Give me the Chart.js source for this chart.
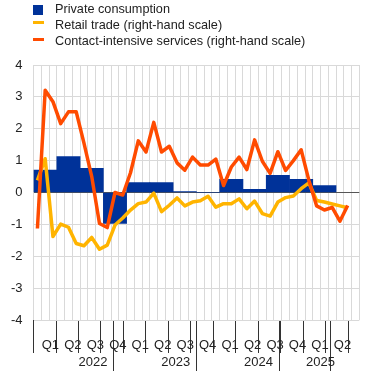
<!DOCTYPE html>
<html>
<head>
<meta charset="utf-8">
<script src="https://cdn.jsdelivr.net/npm/chart.js@4"></script>
<style>
  html, body { margin: 0; padding: 0; background: #fff; }
  #wrap { position: relative; width: 370px; height: 371px; }
  #legend { position: absolute; left: 0; top: 0; font-family: 'Liberation Sans', Arial, sans-serif; font-size: 12.7px; color: #222; }
  .row { position: absolute; left: 0; height: 16px; width: 360px; }
  .row span.txt { position: absolute; left: 55px; top: 0; line-height: 16px; white-space: nowrap; }
  .row span.mark { position: absolute; left: 33px; }
</style>
</head>
<body>
<div id="wrap">
  <canvas id="myChart" width="370" height="371"></canvas>
  <div id="legend"></div>
</div>
<script>
// categories
const years = ['2022', '2023', '2024', '2025']
const monthsPerYear = [12, 12, 12, 6]
const quarterNames = ['Q1', 'Q2', 'Q3', 'Q4']

// quarterly bars, 2022 Q1 .. 2025 Q2
const privateConsumption = [0.70, 1.13, 0.76, -0.97, 0.31, 0.31, 0.03, 0.00, 0.41, 0.10, 0.54, 0.41, 0.22, null]

// monthly lines, Jan 2022 .. May 2025
const retailTrade = [
  0.38, 1.06, -1.38, -0.99, -1.09, -1.60, -1.67, -1.41, -1.78, -1.65, -1.02, -0.80,
  -0.55, -0.35, -0.30, -0.02, -0.60, -0.40, -0.17, -0.42, -0.30, -0.26, -0.12, -0.46,
  -0.35, -0.35, -0.20, -0.51, -0.27, -0.66, -0.74, -0.30, -0.16, -0.11, 0.12, 0.30,
  -0.25, -0.30, -0.36, -0.42, -0.48
]
const contactServices = [
  -1.13, 3.21, 2.85, 2.16, 2.53, 2.53, 1.55, 0.50, -0.97, -1.10, 0.00, -0.08,
  0.62, 1.62, 1.27, 2.20, 1.27, 1.45, 0.93, 0.70, 1.11, 0.86, 0.86, 1.05,
  0.22, 0.80, 1.11, 0.72, 1.65, 0.98, 0.60, 1.28, 0.69, 1.00, 1.34, 0.38,
  -0.42, -0.55, -0.47, -0.90, -0.41
]

// tick labels
const yearTicks = [0, 6, 12, 18, 24, 30, 36, 39, 42]
const yearTickLabels = ['', '2022', '', '2023', '', '2024', '', '2025', '']

const monthLabels = []
const quarterLabels = []
years.forEach((y, i) => {
  for (let m = 1; m <= monthsPerYear[i]; m++) monthLabels.push(y + '-' + m)
  for (let q = 0; q < monthsPerYear[i] / 3; q++) quarterLabels.push(y + ' ' + quarterNames[q])
})
const nMonths = monthLabels.length
const quarterTicks = []
for (let v = 0; v <= nMonths; v += 1.5) quarterTicks.push(v)

const tickDark = '#333'
const gridGrey = '#d9d9d9'

Chart.defaults.font.family = "'Liberation Sans', Arial, sans-serif"
Chart.defaults.color = '#222'

const chart = new Chart(document.getElementById('myChart'), {
  type: 'bar',
  data: {
    labels: monthLabels,
    datasets: [
      {
        type: 'bar',
        label: 'Private consumption',
        data: privateConsumption,
        xAxisID: 'xBars',
        backgroundColor: '#003299',
        grouped: false,
        barPercentage: 1,
        categoryPercentage: 1,
        order: 3
      },
      {
        type: 'line',
        label: 'Retail trade (right-hand scale)',
        data: retailTrade,
        xAxisID: 'x',
        borderColor: '#ffb400',
        backgroundColor: '#ffb400',
        borderWidth: 3.5,
        borderJoinStyle: 'round',
        pointRadius: 0,
        tension: 0,
        order: 2
      },
      {
        type: 'line',
        label: 'Contact-intensive services (right-hand scale)',
        data: contactServices,
        xAxisID: 'x',
        borderColor: '#ff4b00',
        backgroundColor: '#ff4b00',
        borderWidth: 3.5,
        borderJoinStyle: 'round',
        pointRadius: 0,
        tension: 0,
        order: 1
      }
    ]
  },
  options: {
    responsive: false,
    animation: false,
    devicePixelRatio: 1,
    layout: { padding: { left: 0, right: 10.7, top: 65, bottom: 51 } },
    plugins: { legend: { display: false }, tooltip: { enabled: false } },
    scales: {
      x: {
        type: 'category',
        offset: true,
        grid: { color: gridGrey, drawTicks: false, offset: true },
        border: { display: false },
        ticks: { display: false }
      },
      xBars: {
        type: 'category',
        labels: quarterLabels,
        offset: true,
        display: false,
        ticks: { autoSkip: false }
      },
      // quarter labels + short separators, hung from y = -4 so they are not clipped
      xQuarter: {
        type: 'linear',
        position: { y: -4 },
        min: 0,
        max: nMonths,
        afterBuildTicks: (axis) => { axis.ticks = quarterTicks.map(v => ({ value: v })) },
        grid: {
          drawOnChartArea: false,
          tickLength: 33,
          tickColor: (ctx) => ctx.index % 2 === 0 ? tickDark : 'rgba(0,0,0,0)'
        },
        border: { display: false },
        ticks: {
          autoSkip: false,
          maxTicksLimit: 100,
          maxRotation: 0,
          minRotation: 0,
          padding: -15.8,
          font: { size: 13 },
          callback: (v, i) => i % 2 === 1 ? quarterNames[((i - 1) / 2) % 4] : ''
        }
      },
      // year labels + long separators
      xYear: {
        type: 'linear',
        position: { y: -4 },
        min: 0,
        max: nMonths,
        afterBuildTicks: (axis) => { axis.ticks = yearTicks.map(v => ({ value: v })) },
        grid: {
          drawOnChartArea: false,
          tickLength: 51,
          tickColor: (ctx) => yearTickLabels[ctx.index] === '' ? tickDark : 'rgba(0,0,0,0)'
        },
        border: { display: false },
        ticks: {
          autoSkip: false,
          maxTicksLimit: 100,
          maxRotation: 0,
          minRotation: 0,
          padding: -16.8,
          font: { size: 13 },
          callback: (v, i) => yearTickLabels[i]
        }
      },
      y: {
        min: -4,
        max: 4,
        border: { display: false },
        grid: {
          drawTicks: false,
          color: (ctx) => ctx.tick && ctx.tick.value === 0 ? '#555' : gridGrey
        },
        ticks: { stepSize: 1, padding: 11, font: { size: 13 } }
      }
    }
  }
})

// html legend, one row per dataset
const legendEl = document.getElementById('legend')
chart.data.datasets.forEach((ds, i) => {
  const row = document.createElement('div')
  row.className = 'row'
  row.style.top = (0.5 + i * 16.3) + 'px'
  const mark = document.createElement('span')
  mark.className = 'mark'
  mark.style.background = ds.backgroundColor
  if (ds.type === 'bar') {
    mark.style.width = '10px'; mark.style.height = '10px'; mark.style.top = '4px'
  } else {
    mark.style.width = '11px'; mark.style.height = '3px'; mark.style.top = '4.5px'
  }
  const txt = document.createElement('span')
  txt.className = 'txt'
  txt.textContent = ds.label
  row.appendChild(mark)
  row.appendChild(txt)
  legendEl.appendChild(row)
})
</script>
</body>
</html>
